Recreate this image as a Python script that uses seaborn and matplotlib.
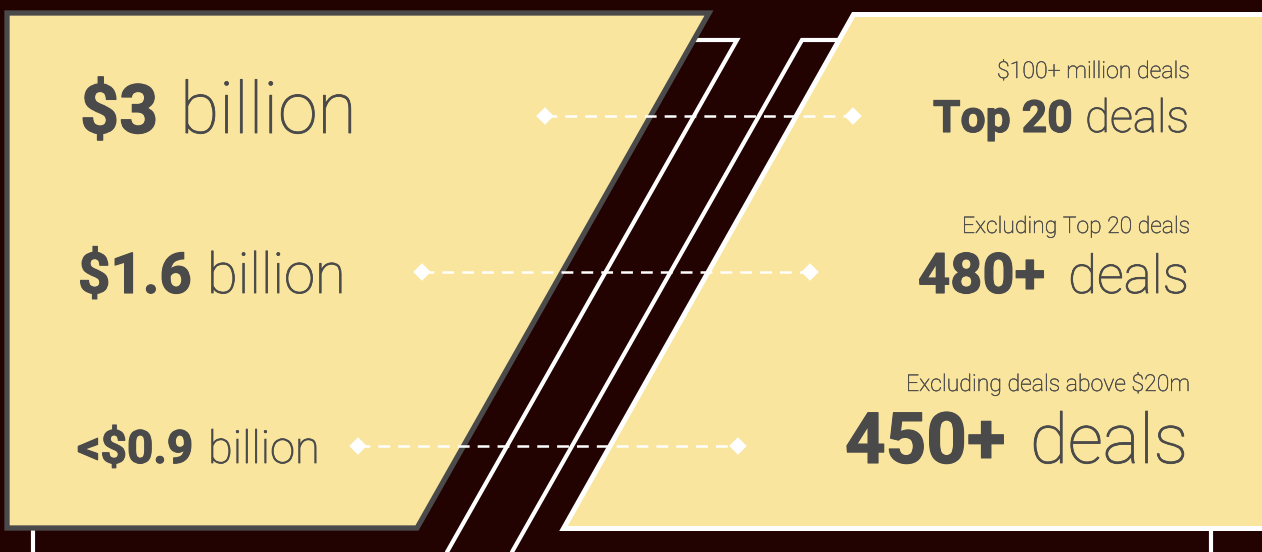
import numpy as np
import pandas as pd
import matplotlib.pyplot as plt
import matplotlib.patheffects as pe
from matplotlib.patches import Polygon
import seaborn as sns

# values shown in the graphic
AMOUNT_BOLD = ['$3', '$1.6', '<$0.9']
AMOUNT_UNIT = 'billion'
DEAL_BOLD = ['Top 20', '480+', '450+']
DEAL_UNIT = 'deals'
DEAL_NOTES = ['$100+ million deals', 'Excluding Top 20 deals',
              'Excluding deals above $20m']

# layout, in pixels (axes spans the whole figure, 1 data unit = 1 px)
W, H = 1262, 552
AMOUNT_BASE = [133, 293, 463]
AMOUNT_BOLD_X = [(80, 158), (78, 192), (77, 193)]
AMOUNT_UNIT_X = [(180, 357), (207, 346), (208, 320)]
DEAL_BASE = [132, 293, 463]
DEAL_BOLD_X = [(933, 1072), (918, 1045), (845, 1005)]
DEAL_UNIT_X = [(1085, 1189), (1068, 1189), (1030, 1188)]
NOTE_BASE = [78, 233, 391]
NOTE_X = [(997, 1190), (962, 1190), (906, 1190)]
LINK_Y = [116, 272, 446]
LINK_X0 = [545, 422, 358]
LINK_X1 = [853, 810, 738]

BG = '#230202'
PANEL = '#FAE59E'
INK = '#4A4A4A'

sns.set_theme(style='white')
plt.rcParams['font.family'] = ['Roboto', 'DejaVu Sans']
plt.rcParams['lines.scale_dashes'] = False

fig = plt.figure(figsize=(W / 100, H / 100), dpi=100, facecolor=BG)
ax = fig.add_axes([0, 0, 1, 1])
ax.set_facecolor(BG)

# slanted white stripes behind the panels
ax.plot([680, 737, 447], [40, 40, 552], color='white', lw=3, zorder=1,
        solid_joinstyle='miter')
ax.plot([850, 802, 512], [40, 40, 552], color='white', lw=3, zorder=1,
        solid_joinstyle='miter')
# short verticals under the panels
ax.plot([33, 33], [528, 560], color='white', lw=3, zorder=1)
ax.plot([1211, 1211], [528, 560], color='white', lw=3, zorder=1)

ax.add_patch(Polygon([(7, 13), (709, 13), (417, 528), (7, 528)], closed=True,
                     facecolor=PANEL, edgecolor=INK, lw=3.8, joinstyle='miter',
                     zorder=2))
ax.add_patch(Polygon([(853, 14), (1320, 14), (1320, 528), (563, 528)], closed=True,
                     facecolor=PANEL, edgecolor='white', lw=3.6, joinstyle='miter',
                     zorder=2))

# dashed connectors with diamond ends
for y, x0, x1 in zip(LINK_Y, LINK_X0, LINK_X1):
    ax.plot([x0, x1], [y, y], color='white', lw=1.8, dashes=(8.5, 5.8), zorder=3)
ends = pd.DataFrame({'x': LINK_X0 + LINK_X1, 'y': LINK_Y + LINK_Y})
sns.scatterplot(data=ends, x='x', y='y', marker='D', s=80, color='white',
                edgecolor='none', ax=ax, zorder=4, legend=False)
ax.set_xlim(0, W); ax.set_ylim(H, 0)
ax.axis('off')

r = fig.canvas.get_renderer()


def fit_text(s, span, yb, weight, stroke):
    """Place text at span[0] and scale its size so it ends at span[1]."""
    t = ax.text(span[0], yb, s, fontsize=20, fontweight=weight, color=INK,
                ha='left', va='baseline', zorder=5)
    w = t.get_window_extent(r).width
    t.set_fontsize(20 * (span[1] - span[0]) / w)
    # slight outline to thicken strokes towards the reference weight
    t.set_path_effects([pe.withStroke(linewidth=stroke, foreground=INK)])
    return t


for txt, yb, bx, ux in zip(AMOUNT_BOLD, AMOUNT_BASE, AMOUNT_BOLD_X, AMOUNT_UNIT_X):
    fit_text(txt, bx, yb, 'bold', 0.8)
    fit_text(AMOUNT_UNIT, ux, yb, 'light', 0.6)

for txt, yb, bx, ux, note, nb, nx in zip(DEAL_BOLD, DEAL_BASE, DEAL_BOLD_X,
                                         DEAL_UNIT_X, DEAL_NOTES, NOTE_BASE, NOTE_X):
    fit_text(txt, bx, yb, 'bold', 0.8)
    fit_text(DEAL_UNIT, ux, yb, 'light', 0.6)
    fit_text(note, nx, nb, 'light', 0.3)

fig.savefig('out.png', dpi=100, facecolor=BG)
